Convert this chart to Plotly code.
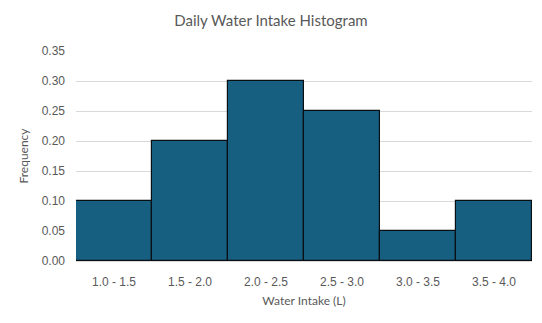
import plotly.graph_objects as go

categories = ["1.0 - 1.5", "1.5 - 2.0", "2.0 - 2.5", "2.5 - 3.0", "3.0 - 3.5", "3.5 - 4.0"]
frequency = [0.10, 0.20, 0.30, 0.25, 0.05, 0.10]
y_ticks = [0.00, 0.05, 0.10, 0.15, 0.20, 0.25, 0.30, 0.35]

TICK_FONT = "Liberation Sans"

fig = go.Figure(go.Bar(
    x=categories, y=frequency,
    marker=dict(color="#175F80", line=dict(color="#0A0F14", width=1.2)),
))

fig.update_layout(
    width=542, height=323,
    margin=dict(l=76, r=10, t=51, b=62),
    paper_bgcolor="white", plot_bgcolor="white",
    bargap=0,
    showlegend=False,
    title=dict(text="Daily Water Intake Histogram", x=0.5, xanchor="center",
               y=1 - 21/323, yanchor="middle",
               font=dict(family="Lato", size=15, color="#595959")),
    font=dict(family=TICK_FONT, size=12, color="#595959"),
)
fig.update_xaxes(
    title=dict(text="Water Intake (L)", standoff=8, font=dict(size=12, family="Lato", color="#595959")),
    showline=True, linecolor="#D9D9D9", linewidth=1,
    ticks="", showgrid=False,
    ticklabelstandoff=10,
    tickfont=dict(size=12, family=TICK_FONT, color="#595959"),
)
fig.update_yaxes(
    title=dict(text="Frequency", standoff=10, font=dict(size=12, family="Lato", color="#595959")),
    range=[0, 0.35], tickvals=y_ticks, tickformat=".2f",
    showgrid=True, gridcolor="#D9D9D9", gridwidth=1,
    zeroline=False, showline=False, ticks="",
    ticklabelstandoff=10,
    tickfont=dict(size=12, family=TICK_FONT, color="#595959"),
)

fig.write_html("out.html")
